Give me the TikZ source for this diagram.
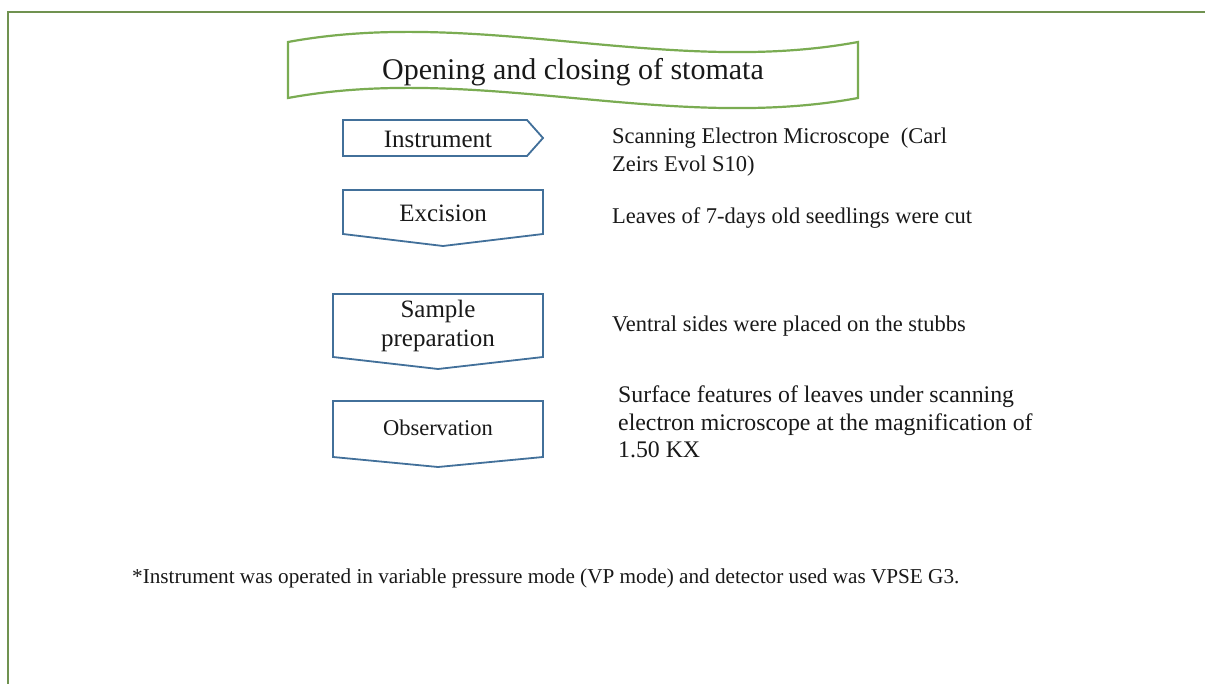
\documentclass[tikz,border=0pt]{standalone}
\usepackage{fontspec}
\setmainfont{Liberation Serif}
\definecolor{framegreen}{RGB}{112,146,80}
\definecolor{bannergreen}{RGB}{122,172,82}
\definecolor{boxblue}{RGB}{66,112,154}
\definecolor{inktext}{RGB}{25,25,25}
\tikzset{
  stepshape/.style={draw=boxblue, line width=1.8pt, fill=white, line join=miter},
  steplabel/.style={text=inktext, font=\fontsize{25}{29}\selectfont, align=center, inner sep=0pt},
  desc/.style={text=inktext, font=\fontsize{22.5}{28}\selectfont, align=left, anchor=west, inner sep=0pt},
}
\begin{document}
\begin{tikzpicture}[x=1pt,y=-1pt]
\useasboundingbox (0,0) rectangle (1205,684);
\fill[white] (0,0) rectangle (1205,684);

% page frame
\draw[framegreen, line width=1.4pt] (8,684) -- (8,12) -- (1205,12);

% title banner
\draw[bannergreen, line width=2.2pt, fill=white, line join=miter]
  (288,42) .. controls (478,7) and (668,77) .. (858,42)
  -- (858,98) .. controls (668,133) and (478,63) .. (288,98) -- cycle;
\node[text=inktext, font=\fontsize{30}{34}\selectfont, inner sep=0pt] (title) at (573,72) {Opening and closing of stomata};

% step shapes
\draw[stepshape] (343,120) -- (527,120) -- (543,138) -- (527,156) -- (343,156) -- cycle;
\node[steplabel] (instrument) at (438,139) {Instrument};

\draw[stepshape] (343,190) -- (543,190) -- (543,234) -- (443,246) -- (343,234) -- cycle;
\node[steplabel] (excision) at (443,213) {Excision};

\draw[stepshape] (333,294) -- (543,294) -- (543,357) -- (438,369) -- (333,357) -- cycle;
\node[steplabel] (sample) at (438,326) {Sample\\preparation};

\draw[stepshape] (333,401) -- (543,401) -- (543,457) -- (438,467) -- (333,457) -- cycle;
\node[steplabel, font=\fontsize{22.5}{27}\selectfont] (observation) at (438,428) {Observation};

% descriptions
\node[desc] (instdesc) at (612,152) {Scanning Electron Microscope\ \ (Carl\\Zeirs Evol S10)};
\node[desc] (excdesc) at (612,218) {Leaves of 7-days old seedlings were cut};
\node[desc] (sampdesc) at (612,326) {Ventral sides were placed on the stubbs};
\node[desc, font=\fontsize{23.8}{27.5}\selectfont] (obsdesc) at (618,422) {Surface features of leaves under scanning\\electron microscope at the magnification of\\1.50 KX};

% footnote
\node[desc, font=\fontsize{21.2}{26}\selectfont] (note) at (132,578) {*Instrument was operated in variable pressure mode (VP mode) and detector used was VPSE G3.};
\end{tikzpicture}
\end{document}
